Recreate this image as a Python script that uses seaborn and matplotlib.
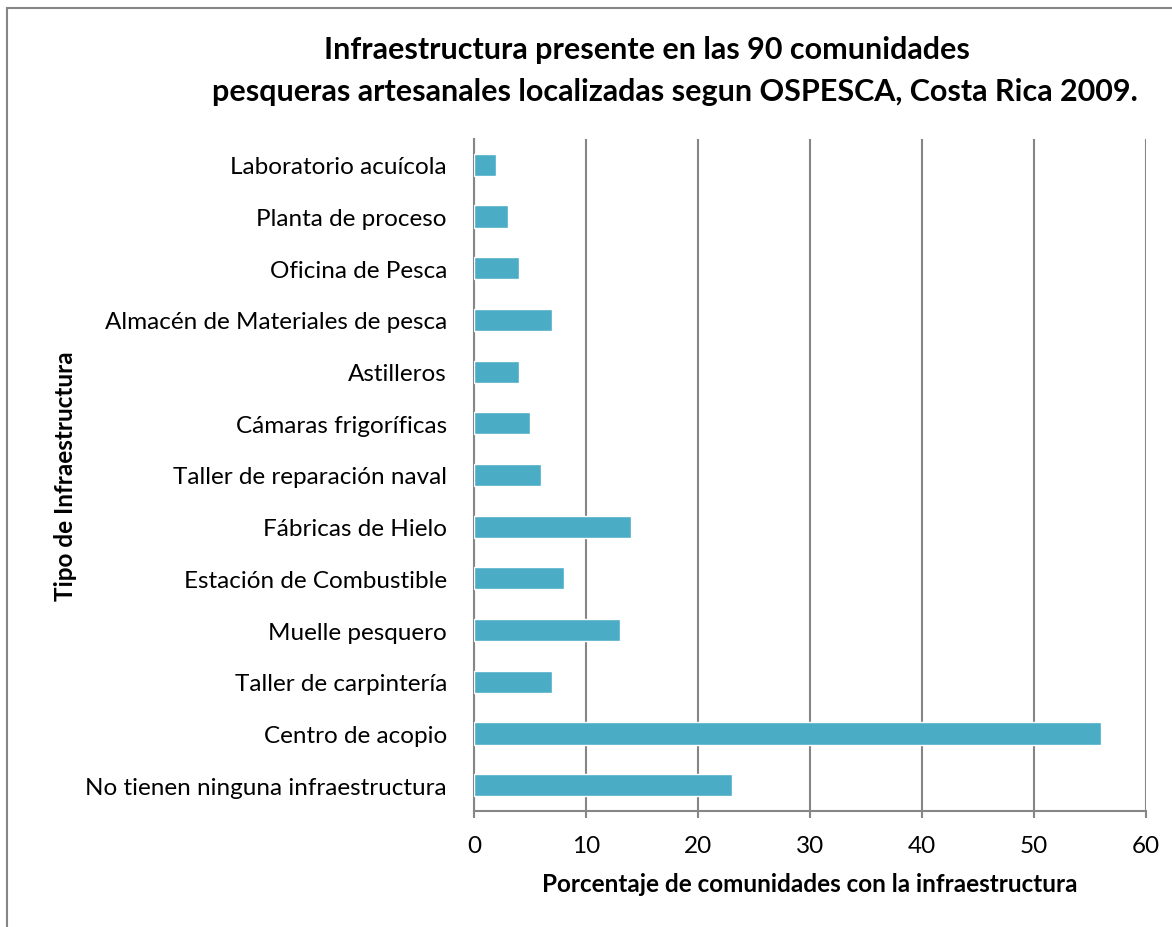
import seaborn as sns
import matplotlib.pyplot as plt
import pandas as pd
from matplotlib.patches import Rectangle

# Datos
categorias = [
    'Laboratorio acuícola',
    'Planta de proceso',
    'Oficina de Pesca',
    'Almacén de Materiales de pesca',
    'Astilleros',
    'Cámaras frigoríficas',
    'Taller de reparación naval',
    'Fábricas de Hielo',
    'Estación de Combustible',
    'Muelle pesquero',
    'Taller de carpintería',
    'Centro de acopio',
    'No tienen ninguna infraestructura',
]
porcentajes = [2, 3, 4, 7, 4, 5, 6, 14, 8, 13, 7, 56, 23]
ticks_x = [0, 10, 20, 30, 40, 50, 60]

df = pd.DataFrame({'tipo': categorias, 'pct': porcentajes})

sns.set_style('white')
plt.rcParams['font.family'] = ['Lato', 'DejaVu Sans']
plt.rcParams['text.color'] = 'black'
plt.rcParams['axes.labelcolor'] = 'black'
plt.rcParams['xtick.color'] = 'black'
plt.rcParams['ytick.color'] = 'black'

W, H = 1172, 928
fig = plt.figure(figsize=(W / 100, H / 100), dpi=100)
ax = fig.add_axes([474 / W, 1 - 812 / H, (1146 - 474) / W, (812 - 140) / H])

sns.barplot(data=df, y='tipo', x='pct', color='#4BACC6', width=0.43,
            saturation=1, ax=ax, zorder=3)

ax.set_xlim(0, 60)
ax.set_xticks(ticks_x)
ax.grid(axis='x', color='#868686', linewidth=1.5, zorder=0)
ax.set_axisbelow(True)
for s in ['top', 'right']:
    ax.spines[s].set_visible(False)
for s in ['left', 'bottom']:
    ax.spines[s].set_color('#868686')
    ax.spines[s].set_linewidth(1.5)
ax.tick_params(axis='x', bottom=True, length=5, width=1.5, color='#868686',
               labelsize=17.5, pad=12)
ax.tick_params(axis='y', left=False, labelsize=17.5, pad=16)

ax.set_xlabel('Porcentaje de comunidades con la infraestructura',
              fontsize=17.5, fontweight='bold', labelpad=12)
ax.set_ylabel('Tipo de Infraestructura', fontsize=17.5, fontweight='bold',
              labelpad=6)

fig.text(647 / W, 1 - 50 / H, 'Infraestructura presente en las 90 comunidades',
         ha='center', va='center', fontsize=22, fontweight='bold')
fig.text(675 / W, 1 - 92 / H,
         'pesqueras artesanales localizadas segun OSPESCA, Costa Rica 2009.',
         ha='center', va='center', fontsize=22, fontweight='bold')

# Borde del área del gráfico
fig.patches.append(Rectangle((7 / W, -0.05), 1.1, 1 - 9 / H + 0.05,
                             transform=fig.transFigure, fill=False,
                             edgecolor='#868686', linewidth=1.5))

fig.savefig('out.png', dpi=100)
